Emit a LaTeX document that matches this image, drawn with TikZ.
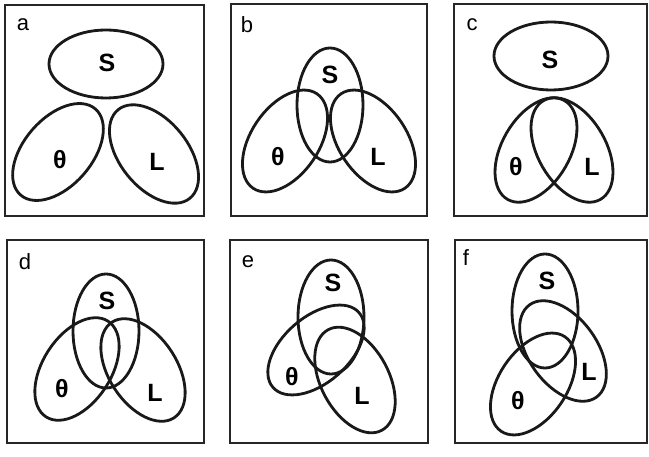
\documentclass[tikz,border=0pt]{standalone}
\usepackage{fontspec}
\setmainfont{Liberation Sans}
\begin{document}
\begin{tikzpicture}[x=1pt,y=-1pt,
  panelbox/.style={draw=black!85, line width=2pt},
  ellline/.style={draw=black!90, line width=2.8pt},
  setlbl/.style={font=\fontsize{25}{27}\selectfont\bfseries, inner sep=0pt},
  panlbl/.style={font=\fontsize{22}{24}\selectfont, inner sep=0pt}]
\useasboundingbox (0,0) rectangle (649,457);
\newcommand\myellip[4]{\draw[ellline, rotate around={#3:(#1,#2)}] (#1,#2) ellipse [x radius=57pt, y radius=#4pt];}
% boxes
\draw[panelbox] (5,5) rectangle (204,216);
\draw[panelbox] (231,4) rectangle (427,216);
\draw[panelbox] (454,4) rectangle (647,216);
\draw[panelbox] (7,240) rectangle (204,443);
\draw[panelbox] (230,240) rectangle (428,443);
\draw[panelbox] (455,240) rectangle (647,443);
% panel a
\myellip{106}{64}{0}{34}
\myellip{58}{152}{49}{34}
\myellip{154}{154}{-51}{34}
\node[panlbl] (la) at (23,25) {a};
\node[setlbl] (aS) at (107,63) {S};
\node[setlbl] (aT) at (60,160) {θ};
\node[setlbl] (aL) at (157,162) {L};
% panel b
\myellip{330}{105}{90}{33}
\myellip{285}{141}{56}{34}
\myellip{373}{141}{-56}{34}
\node[panlbl] (lb) at (247,25) {b};
\node[setlbl] (bS) at (330,75) {S};
\node[setlbl] (bT) at (278,157) {θ};
\node[setlbl] (bL) at (378,157) {L};
% panel c
\myellip{551}{56}{0}{34}
\myellip{536}{150}{60}{34}
\myellip{572}{150}{-60}{34}
\node[panlbl] (lc) at (472,25) {c};
\node[setlbl] (cS) at (550,60) {S};
\node[setlbl] (cT) at (516,167) {θ};
\node[setlbl] (cL) at (592,167) {L};
% panel d
\myellip{106}{331}{90}{33}
\myellip{77}{369}{57}{34}
\myellip{143}{370}{-57}{34}
\node[panlbl] (ld) at (25,262) {d};
\node[setlbl] (dS) at (107,301) {S};
\node[setlbl] (dT) at (62,389) {θ};
\node[setlbl] (dL) at (155,393) {L};
% panel e
\myellip{331}{317}{90}{33}
\myellip{316}{350}{41}{33}
\myellip{355}{380}{-62}{34}
\node[panlbl] (le) at (248,262) {e};
\node[setlbl] (eS) at (333,283) {S};
\node[setlbl] (eT) at (292,377) {θ};
\node[setlbl] (eL) at (362,396) {L};
% panel f
\myellip{545}{311}{90}{33}
\myellip{563}{351}{-54}{34}
\myellip{533}{384}{56}{34}
\node[panlbl] (lf) at (466,258) {f};
\node[setlbl] (fS) at (547,281) {S};
\node[setlbl] (fL) at (589,372) {L};
\node[setlbl] (fT) at (518,401) {θ};
\end{tikzpicture}
\end{document}
